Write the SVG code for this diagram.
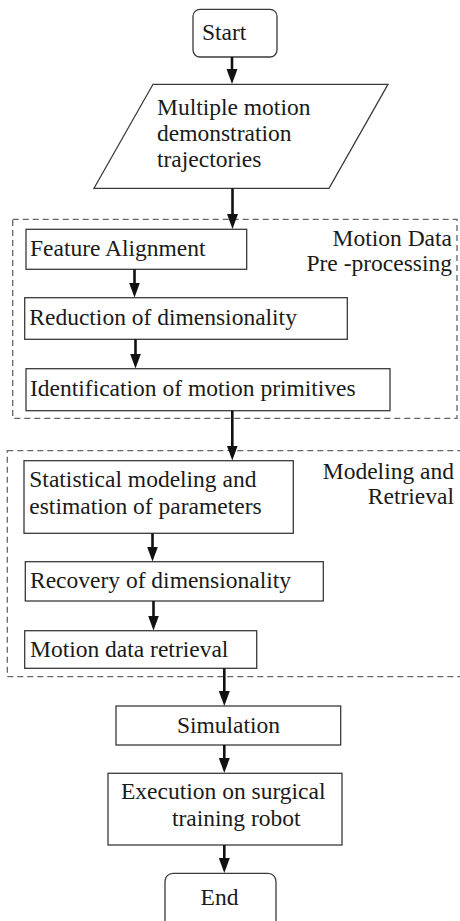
<svg xmlns="http://www.w3.org/2000/svg" width="460" height="921" viewBox="0 0 460 921" font-family="'Liberation Serif', 'DejaVu Serif', serif">
<defs>
<marker id="ah" markerUnits="userSpaceOnUse" markerWidth="16" markerHeight="12" refX="7" refY="5.5" orient="auto">
<path d="M0,0 L15,5.5 L0,11 z" fill="#111"/>
</marker>
</defs>
<style>
.box{fill:#fff;stroke:#3a3a3a;stroke-width:1.3}
.grp{fill:none;stroke:#666;stroke-width:1.3;stroke-dasharray:6,4}
text{font-family:'Liberation Serif','DejaVu Serif',serif;font-size:23.5px;fill:#1a1a1a}
.m{text-anchor:middle}
.e{text-anchor:end}
.c{fill:none;stroke:#111;stroke-width:2.6;marker-end:url(#ah)}
</style>
<rect width="460" height="921" fill="#fff"/>
<g id="group-preprocessing">
<rect class="grp" x="12.7" y="219.3" width="444.3" height="199"/>
<text class="e" x="452" y="246">Motion Data</text>
<text class="e" x="452" y="271">Pre -processing</text>
</g>
<g id="group-modeling">
<rect class="grp" x="7.3" y="450.7" width="460" height="226"/>
<text class="e" x="454" y="479">Modeling and</text>
<text class="e" x="454" y="504">Retrieval</text>
</g>
<g id="start">
<rect class="box" x="193" y="9.3" width="84" height="47.7" rx="7"/>
<text x="202" y="40">Start</text>
</g>
<g id="input">
<polygon class="box" points="153,84.3 388,84.3 329,188.3 94,188.3"/>
<text x="157" y="115">Multiple motion</text>
<text x="157" y="141">demonstration</text>
<text x="157" y="167">trajectories</text>
</g>
<g id="feature">
<rect class="box" x="26" y="229.3" width="220.7" height="40"/>
<text x="30" y="256">Feature Alignment</text>
</g>
<g id="reduction">
<rect class="box" x="24.7" y="297.7" width="322.6" height="41.6"/>
<text x="29.3" y="325">Reduction of dimensionality</text>
</g>
<g id="identification">
<rect class="box" x="26" y="368.7" width="364" height="42"/>
<text x="30" y="396">Identification of motion primitives</text>
</g>
<g id="statistical">
<rect class="box" x="24" y="460.7" width="269.3" height="72.6"/>
<text x="29.3" y="487">Statistical modeling and</text>
<text x="29.3" y="514">estimation of parameters</text>
</g>
<g id="recovery">
<rect class="box" x="25.3" y="561.7" width="298" height="39.3"/>
<text x="30" y="588">Recovery of dimensionality</text>
</g>
<g id="retrieval">
<rect class="box" x="24.7" y="630.7" width="232" height="37.6"/>
<text x="30" y="657">Motion data retrieval</text>
</g>
<g id="simulation">
<rect class="box" x="116" y="706" width="224.7" height="39"/>
<text class="m" x="228.5" y="733">Simulation</text>
</g>
<g id="execution">
<rect class="box" x="108" y="773.3" width="234" height="71.7"/>
<text x="121" y="799">Execution on surgical</text>
<text x="172" y="826">training robot</text>
</g>
<g id="end">
<rect class="box" x="165" y="873.3" width="111" height="60" rx="8"/>
<text class="m" x="219.5" y="905">End</text>
</g>
<g id="connectors">
<path class="c" d="M232,57 V76"/>
<path class="c" d="M232.5,188.3 V221"/>
<path class="c" d="M134.5,269.3 V289.5"/>
<path class="c" d="M135.5,339.3 V360.5"/>
<path class="c" d="M232.3,410.7 V452.5"/>
<path class="c" d="M152.5,533.3 V553.5"/>
<path class="c" d="M153.5,601 V622.5"/>
<path class="c" d="M224.3,668.3 V698"/>
<path class="c" d="M224.3,745 V765"/>
<path class="c" d="M224.3,845 V865"/>
</g>
</svg>
